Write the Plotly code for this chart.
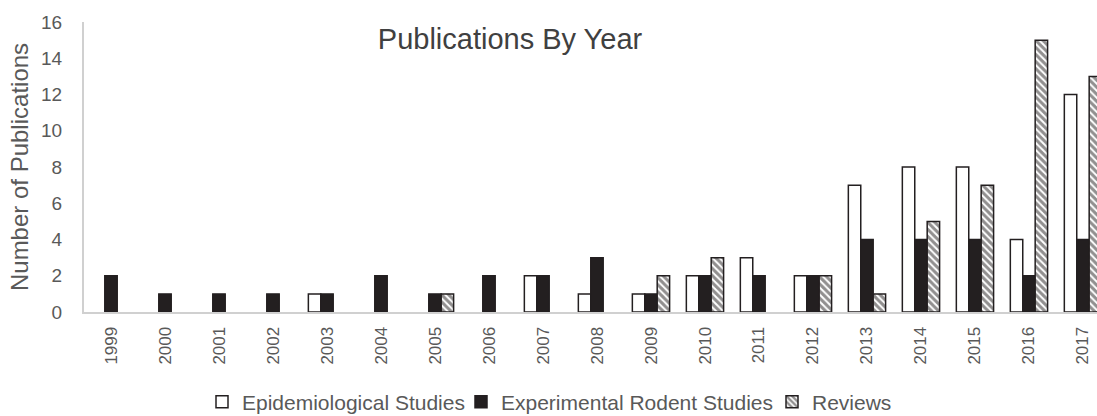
import plotly.graph_objects as go

# Publication counts per year, by study type
years = [str(y) for y in range(1999, 2018)]
epidemiological = [0, 0, 0, 0, 1, 0, 0, 0, 2, 1, 1, 2, 3, 2, 7, 8, 8, 4, 12]
rodent = [2, 1, 1, 1, 1, 2, 1, 2, 2, 3, 1, 2, 2, 2, 4, 4, 4, 2, 4]
reviews = [0, 0, 0, 0, 0, 0, 1, 0, 0, 0, 2, 3, 0, 2, 1, 5, 7, 15, 13]

series_names = ["Epidemiological Studies", "Experimental Rodent Studies", "Reviews"]

TEXT = "#595959"
AXIS = "#d0d0d0"
INK = "#231f20"
OUTLINE = dict(color=INK, width=1.5)
FONT = "Liberation Sans, Arial, sans-serif"


def nonzero(values):
    # empty years get no bar at all (avoids a flat outline on the axis)
    return [v if v else None for v in values]


fig = go.Figure()
fig.add_trace(go.Bar(
    x=years, y=nonzero(epidemiological), name=series_names[0],
    marker=dict(color="white", line=OUTLINE),
    legendwidth=214,
))
fig.add_trace(go.Bar(
    x=years, y=nonzero(rodent), name=series_names[1],
    marker=dict(color=INK, line=OUTLINE),
    legendwidth=266,
))
fig.add_trace(go.Bar(
    x=years, y=nonzero(reviews), name=series_names[2],
    marker=dict(
        color="white", line=OUTLINE,
        pattern=dict(shape="\\", fgcolor=INK, bgcolor="white",
                     size=5, solidity=0.6, fillmode="overlay"),
    ),
))

fig.update_layout(
    width=1097, height=416,
    margin=dict(l=84, r=0, t=22, b=104, autoexpand=False),
    paper_bgcolor="white", plot_bgcolor="white",
    font=dict(family=FONT, color=TEXT),
    barmode="group", bargap=0.31, bargroupgap=0,
    title=dict(
        text="Publications By Year",
        font=dict(family=FONT, size=29, color="#404040"),
        xref="container", x=510 / 1097, xanchor="center",
        yref="container", y=1 - 39 / 416, yanchor="middle",
    ),
    showlegend=True,
    legend=dict(
        orientation="h",
        xref="container", x=202 / 1097, xanchor="left",
        yref="container", y=1 - 402 / 416, yanchor="middle",
        font=dict(family=FONT, size=21, color=TEXT),
        bgcolor="rgba(0,0,0,0)", borderwidth=0,
        traceorder="normal",
    ),
)

fig.update_xaxes(
    type="category", range=[-0.5, 18.26],
    showline=True, linecolor=AXIS, linewidth=2,
    showgrid=False, ticks="", tickangle=-90,
    tickfont=dict(family=FONT, size=17, color=TEXT),
    ticklabelstandoff=6, automargin=False,
)
fig.update_yaxes(
    range=[0, 16], dtick=2,
    showline=True, linecolor=AXIS, linewidth=2,
    showgrid=False, zeroline=False, ticks="",
    tickfont=dict(family=FONT, size=19, color=TEXT),
    ticklabelstandoff=16, automargin=False,
    title=dict(text="Number of Publications",
               font=dict(family=FONT, size=24, color=TEXT), standoff=6),
)

fig.write_html("out.html")
